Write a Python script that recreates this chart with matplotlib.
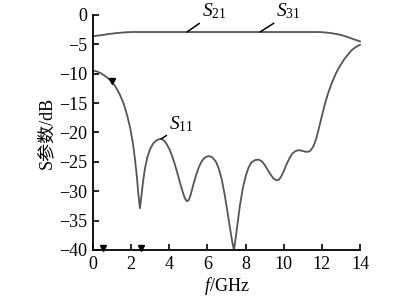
import matplotlib
matplotlib.use("Agg")
import matplotlib.pyplot as plt

plt.rcParams['font.family'] = ['Liberation Serif', 'Noto Sans CJK SC', 'DejaVu Sans']
plt.rcParams['mathtext.fontset'] = 'custom'
plt.rcParams['mathtext.rm'] = 'Liberation Serif'
plt.rcParams['mathtext.it'] = 'Liberation Serif:italic'

# S11 curve
f11 = [0.0, 0.2, 0.4, 0.6, 0.8, 1.0, 1.2, 1.4, 1.6, 1.8, 1.95, 2.1, 2.2, 2.3, 2.38, 2.46,
       2.54, 2.62, 2.72, 2.85, 3.0, 3.15, 3.3, 3.45, 3.57, 3.7, 3.85, 4.0, 4.15, 4.3, 4.45,
       4.6, 4.75, 4.85, 4.93, 5.02, 5.12, 5.25, 5.4, 5.55, 5.7, 5.85, 6.05, 6.25, 6.45, 6.6,
       6.75, 6.9, 7.05, 7.2, 7.3, 7.39, 7.48, 7.58, 7.7, 7.85, 8.0, 8.15, 8.3, 8.5, 8.67,
       8.85, 9.0, 9.15, 9.3, 9.45, 9.6, 9.72, 9.85, 10.0, 10.15, 10.3, 10.45, 10.6, 10.77,
       10.95, 11.1, 11.27, 11.4, 11.55, 11.7, 11.82, 12.0, 12.17, 12.35, 12.52, 12.7, 12.87,
       13.04, 13.2, 13.38, 13.56, 13.72, 13.86, 14.0]
s11 = [-9.5, -9.6, -9.9, -10.3, -10.8, -11.4, -12.3, -13.5, -15.0, -17.2, -19.2, -22.0,
       -24.5, -27.5, -30.5, -32.9, -30.8, -28.5, -26.2, -24.2, -22.8, -21.9, -21.4, -21.15,
       -21.1, -21.3, -21.9, -22.8, -24.0, -25.5, -27.2, -29.0, -30.6, -31.4, -31.7, -31.5,
       -30.6, -29.0, -27.3, -25.9, -24.9, -24.3, -24.0, -24.2, -25.0, -26.2, -28.0, -30.5,
       -33.5, -36.6, -38.6, -40.0, -38.0, -35.5, -32.5, -29.6, -27.5, -26.0, -25.1, -24.7,
       -24.6, -24.9, -25.5, -26.3, -27.1, -27.8, -28.1, -28.1, -27.6, -26.6, -25.4, -24.4,
       -23.6, -23.2, -23.0, -23.1, -23.25, -23.3, -23.1, -22.4, -21.1, -19.6, -17.2, -15.0,
       -13.1, -11.6, -10.2, -9.1, -8.2, -7.4, -6.7, -6.0, -5.6, -5.3, -5.1]

# S21 / S31 curve (coincident)
f21 = [0.0, 0.4, 0.8, 1.2, 1.6, 2.0, 4.0, 6.0, 8.0, 10.0, 11.8, 12.1, 12.4, 12.7, 13.0,
       13.3, 13.6, 14.0]
s21 = [-3.6, -3.45, -3.25, -3.1, -2.97, -2.9, -2.9, -2.9, -2.9, -2.9, -2.9, -2.95, -3.05,
       -3.2, -3.4, -3.7, -4.05, -4.5]

# triangle markers
mk_f = [1.0, 0.54, 2.52]
mk_db = [-11.2, -39.6, -39.6]

xticks = [0, 2, 4, 6, 8, 10, 12, 14]
yticks = [0, -5, -10, -15, -20, -25, -30, -35, -40]

fig = plt.figure(figsize=(4.14, 2.99), dpi=100)
ax = fig.add_axes([0.2246, 0.1639, 0.645, 0.786])

col = '#555555'
ax.plot(f11, s11, color=col, lw=1.3, clip_on=False)
ax.plot(f21, s21, color=col, lw=1.3, clip_on=False)
ax.plot(mk_f, mk_db, linestyle='none', marker='v', color='black', ms=5, clip_on=False)

ax.set_xlim(0, 14)
ax.set_ylim(-40, 0)
ax.set_xticks(xticks)
ax.set_yticks(yticks)
ax.set_yticklabels([('\u2212%d' % -v) if v < 0 else '%d' % v for v in yticks])

for s in ['top', 'right']:
    ax.spines[s].set_visible(False)
for s in ['left', 'bottom']:
    ax.spines[s].set_linewidth(1.3)
ax.tick_params(direction='in', length=4, width=1.2, labelsize=13, pad=4)

ax.set_xlabel(r'$f$/GHz', fontsize=13, labelpad=2)
ax.set_ylabel('S参数/dB', fontsize=13, labelpad=3)

# curve labels with leader lines
ax.annotate(r'$S_{\mathrm{21}}$', xy=(4.93, -2.9), xytext=(5.72, -0.3),
            fontsize=14, ha='left', va='baseline', annotation_clip=False,
            arrowprops=dict(arrowstyle='-', color='black', lw=1.1, shrinkA=0, shrinkB=0,
                            relpos=(0.0, 0.0)))
ax.annotate(r'$S_{\mathrm{31}}$', xy=(8.76, -2.9), xytext=(9.62, -0.3),
            fontsize=14, ha='left', va='baseline', annotation_clip=False,
            arrowprops=dict(arrowstyle='-', color='black', lw=1.1, shrinkA=0, shrinkB=0,
                            relpos=(0.0, 0.0)))
ax.annotate(r'$S_{\mathrm{11}}$', xy=(3.57, -21.1), xytext=(4.0, -19.4),
            fontsize=14, ha='left', va='baseline', annotation_clip=False,
            arrowprops=dict(arrowstyle='-', color='black', lw=1.1, shrinkA=0, shrinkB=0,
                            relpos=(0.0, 0.0)))

fig.savefig('out.png', dpi=100)
